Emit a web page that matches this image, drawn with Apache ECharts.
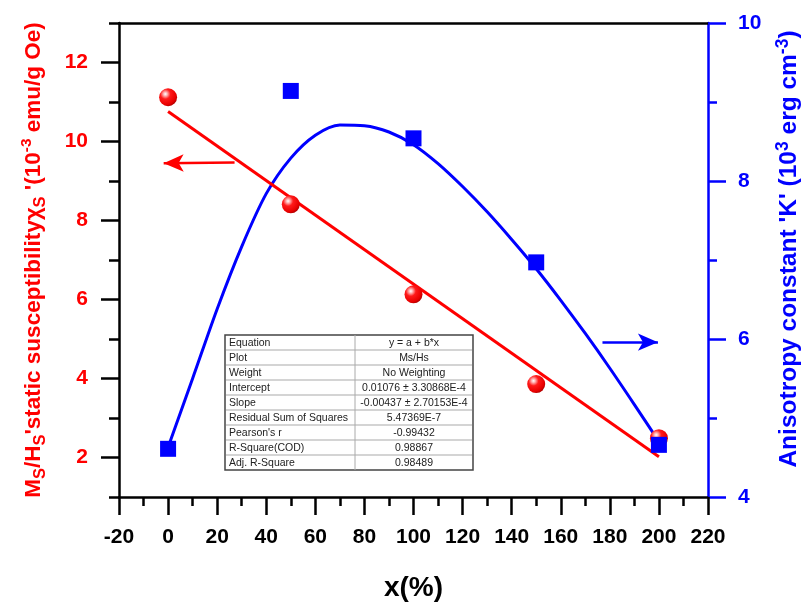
<!DOCTYPE html>
<html>
<head>
<meta charset="utf-8">
<script src="https://cdn.jsdelivr.net/npm/echarts@6/dist/echarts.min.js"></script>
<style>
  html, body { margin: 0; padding: 0; background: #fff; }
  #chart { width: 806px; height: 603px; }
</style>
</head>
<body>
<div id="chart"></div>
<script>
// measured points
const xs = [0, 50, 100, 150, 200]
const susceptibility = [11.12, 8.41, 6.13, 3.86, 2.49]
const anisotropy = [4.61, 9.14, 8.54, 6.97, 4.66]

// linear fit (red) end points
const fitX = [0, 200]
const fitY = [10.76, 2.02]

// fitted curve for K (blue), every 10 %
const curveX = [0, 10, 20, 30, 40, 50, 60, 70, 80, 90, 100, 110, 120, 130, 140, 150, 160, 170, 180, 190, 200]
const curveY = [4.63, 5.50, 6.38, 7.17, 7.84, 8.29, 8.58, 8.71, 8.70, 8.62, 8.46, 8.22, 7.93, 7.61, 7.26, 6.89, 6.49, 6.07, 5.63, 5.17, 4.70]

// tick values of the left axis
const leftMajor = [2, 4, 6, 8, 10, 12]
const leftMinor = [1, 3, 5, 7, 9, 11, 13]

// fit report table
const tableLabels = ['Equation', 'Plot', 'Weight', 'Intercept', 'Slope',
  'Residual Sum of Squares', "Pearson's r", 'R-Square(COD)', 'Adj. R-Square']
const tableValues = ['y = a + b*x', 'Ms/Hs', 'No Weighting', '0.01076 \u00b1 3.30868E-4',
  '-0.00437 \u00b1 2.70153E-4', '5.47369E-7', '-0.99432', '0.98867', '0.98489']

const FONT = 'Liberation Sans, Arial, sans-serif'
const RED = '#ff0000'
const BLUE = '#0000ff'

const chart = echarts.init(document.getElementById('chart'))

const pairs = (a, b) => a.map((v, i) => [v, b[i]])

// table as graphic elements
const buildTable = () => {
  const left = 225, top = 335, width = 248, rowH = 15, split = 130
  const els = [{
    type: 'rect', shape: { x: left, y: top, width: width, height: rowH * tableLabels.length },
    style: { fill: '#fff', stroke: '#444', lineWidth: 1.5 }, z: 10
  }]
  for (let i = 1; i < tableLabels.length; i++) {
    els.push({
      type: 'line', shape: { x1: left + 1, y1: top + i * rowH, x2: left + width - 1, y2: top + i * rowH },
      style: { stroke: '#d4d4d4', lineWidth: 2 }, z: 11
    })
  }
  els.push({
    type: 'line', shape: { x1: left + split, y1: top, x2: left + split, y2: top + rowH * tableLabels.length },
    style: { stroke: '#aaa', lineWidth: 1 }, z: 11
  })
  tableLabels.forEach((t, i) => {
    els.push({
      type: 'text', z: 12,
      style: { text: t, x: left + 4, y: top + i * rowH + rowH / 2 + 0.5, verticalAlign: 'middle',
        fontSize: 10.5, fontFamily: 'Liberation Sans Narrow, Liberation Sans, Arial', fill: '#222' }
    })
    els.push({
      type: 'text', z: 12,
      style: { text: tableValues[i], x: left + split + (width - split) / 2, y: top + i * rowH + rowH / 2 + 0.5,
        align: 'center', verticalAlign: 'middle',
        fontSize: 10.5, fontFamily: 'Liberation Sans Narrow, Liberation Sans, Arial', fill: '#222' }
    })
  })
  return els
}

const titleRich = (color, size) => ({
  m: { fontSize: size, fontWeight: 'bold', color: color, fontFamily: FONT, lineHeight: 30 },
  sub: { fontSize: size - 6, fontWeight: 'bold', color: color, fontFamily: FONT, lineHeight: 14, verticalAlign: 'bottom' },
  sup: { fontSize: size - 7, fontWeight: 'bold', color: color, fontFamily: FONT, lineHeight: 20, verticalAlign: 'top' }
})

const ball = new echarts.graphic.RadialGradient(0.35, 0.32, 0.7, [
  { offset: 0, color: '#ffffff' },
  { offset: 0.15, color: '#ffb4b4' },
  { offset: 0.4, color: '#ff1a1a' },
  { offset: 0.85, color: '#e80000' },
  { offset: 1, color: '#b80000' }
])

const option = {
  animation: false,
  grid: { left: 119, right: 98, top: 23, bottom: 106, outerBoundsMode: 'none' },
  xAxis: [
    {
      type: 'value', min: -20, max: 220, interval: 20, position: 'bottom',
      axisLine: { onZero: false, lineStyle: { color: '#000', width: 2.5 } },
      axisTick: { length: 18, lineStyle: { color: '#000', width: 2.5 } },
      minorTick: { show: true, splitNumber: 2, length: 9, lineStyle: { color: '#000', width: 2.5 } },
      axisLabel: { color: '#000', fontSize: 21, fontWeight: 'bold', fontFamily: FONT, margin: 30 },
      splitLine: { show: false },
      name: 'x(%)', nameLocation: 'middle', nameGap: 77,
      nameTextStyle: { color: '#000', fontSize: 28, fontWeight: 'bold', fontFamily: FONT }
    },
    {
      type: 'value', min: -20, max: 220, position: 'top',
      axisLine: { onZero: false, lineStyle: { color: '#000', width: 2.5 } },
      axisTick: { show: false }, axisLabel: { show: false }, splitLine: { show: false }
    }
  ],
  yAxis: [
    {
      type: 'value', min: 1, max: 13, interval: 1, position: 'left',
      axisLine: { show: true, onZero: false, lineStyle: { color: '#000', width: 2.5 } },
      axisTick: { customValues: leftMajor, length: 18, lineStyle: { color: '#000', width: 2.5 } },
      axisLabel: { customValues: leftMajor, color: RED, fontSize: 21, fontWeight: 'bold', fontFamily: FONT, margin: 31 },
      splitLine: { show: false },
      name: "{m|M}{sub|S}{m|/H}{sub|S}{m|'static susceptibility\u03c7}{sub|S}{m| '(10}{sup|-3}{m| emu/g Oe)}",
      nameLocation: 'middle', nameRotate: 90, nameGap: 70,
      nameTextStyle: { rich: titleRich(RED, 22.5) }
    },
    {
      type: 'value', min: 4, max: 10, interval: 2, position: 'right',
      axisLine: { show: true, onZero: false, lineStyle: { color: BLUE, width: 2.5 } },
      axisTick: { length: 18, lineStyle: { color: BLUE, width: 2.5 } },
      minorTick: { show: true, splitNumber: 2, length: 9, lineStyle: { color: BLUE, width: 2.5 } },
      axisLabel: { color: BLUE, fontSize: 21, fontWeight: 'bold', fontFamily: FONT, margin: 30 },
      splitLine: { show: false },
      name: "{m|Anisotropy constant 'K' (10}{sup|3}{m| erg cm}{sup|-3}{m|)}",
      nameLocation: 'middle', nameRotate: 90, nameGap: 66,
      nameTextStyle: { rich: titleRich(BLUE, 24.5), padding: [0, 0, 0, 22] }
    },
    {
      // minor ticks of the left axis
      type: 'value', min: 1, max: 13, interval: 1, position: 'left',
      axisLine: { show: false, onZero: false },
      axisTick: { customValues: leftMinor, length: 10, lineStyle: { color: '#000', width: 2.5 } },
      axisLabel: { show: false },
      splitLine: { show: false }
    }
  ],
  series: [
    {
      name: 'K fit', type: 'line', xAxisIndex: 0, yAxisIndex: 1, z: 2,
      data: pairs(curveX, curveY), smooth: 0.3, showSymbol: false, silent: true,
      lineStyle: { color: BLUE, width: 3 },
      markLine: {
        silent: true, symbol: ['none', 'arrow'], symbolSize: [13, 20],
        label: { show: false }, lineStyle: { color: BLUE, width: 2.5, type: 'solid' },
        data: [[{ coord: [177, 5.96] }, { coord: [199.6, 5.96] }]]
      }
    },
    {
      name: 'Ms/Hs fit', type: 'line', xAxisIndex: 0, yAxisIndex: 0, z: 3,
      data: pairs(fitX, fitY), showSymbol: false, silent: true,
      lineStyle: { color: RED, width: 3 },
      markLine: {
        silent: true, symbol: ['none', 'arrow'], symbolSize: [13, 20],
        label: { show: false }, lineStyle: { color: RED, width: 2.5, type: 'solid' },
        data: [[{ coord: [27.1, 9.47] }, { coord: [-1.8, 9.45] }]]
      }
    },
    {
      name: 'Ms/Hs', type: 'scatter', xAxisIndex: 0, yAxisIndex: 0, z: 4,
      data: pairs(xs, susceptibility), symbol: 'circle', symbolSize: 18,
      itemStyle: { color: ball, opacity: 1 }
    },
    {
      name: 'K', type: 'scatter', xAxisIndex: 0, yAxisIndex: 1, z: 5,
      data: pairs(xs, anisotropy), symbol: 'rect', symbolSize: 16,
      itemStyle: { color: BLUE, opacity: 1 }
    }
  ],
  graphic: buildTable()
}

chart.setOption(option)
</script>
</body>
</html>
